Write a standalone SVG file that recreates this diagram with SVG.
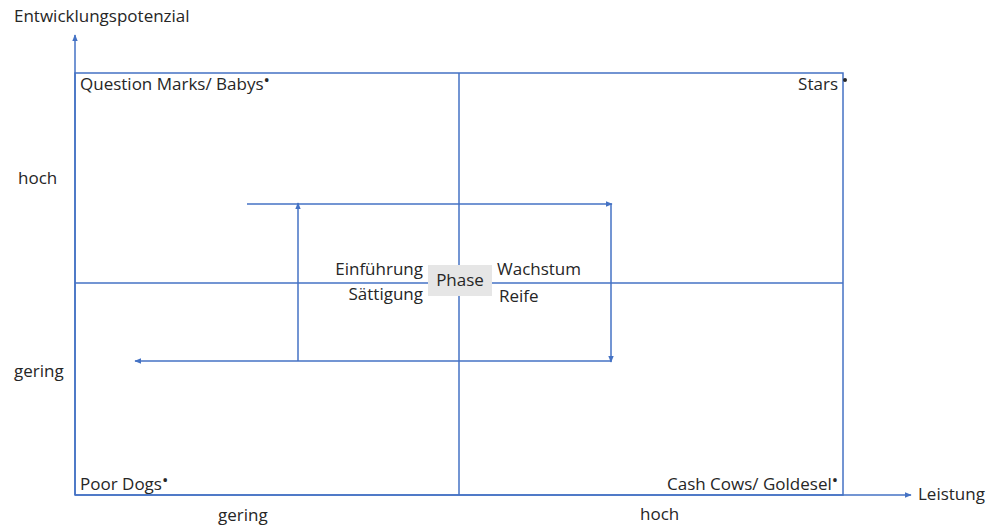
<svg xmlns="http://www.w3.org/2000/svg" width="996" height="525" viewBox="0 0 996 525">
<style>
text{font-family:"Open Sans","Noto Sans",sans-serif;font-size:17px;fill:#262626}
.ln{stroke:#4472C4;stroke-width:1.5;fill:none}
.b{font-size:17px}
</style>
<defs>
<marker id="ah" viewBox="0 0 10 10" refX="9" refY="5" markerWidth="7" markerHeight="7" orient="auto" markerUnits="userSpaceOnUse"><path d="M0,1 L10,5 L0,9 z" fill="#4472C4"/></marker>
</defs>
<rect width="996" height="525" fill="#fff"/>
<g id="connectors">
<line class="ln" x1="75" y1="495" x2="75" y2="35" marker-end="url(#ah)"/>
<line class="ln" x1="75" y1="495" x2="911" y2="495" marker-end="url(#ah)"/>
<rect class="ln" x="75" y="73" width="768" height="422"/>
<line class="ln" x1="459" y1="73" x2="459" y2="495"/>
<line class="ln" x1="75" y1="283" x2="843" y2="283"/>
<line class="ln" x1="247" y1="204" x2="612" y2="204" marker-end="url(#ah)"/>
<line class="ln" x1="611" y1="204" x2="611" y2="362" marker-end="url(#ah)"/>
<line class="ln" x1="611" y1="361" x2="135" y2="361" marker-end="url(#ah)"/>
<line class="ln" x1="298" y1="361" x2="298" y2="203" marker-end="url(#ah)"/>
</g>
<g id="phase">
<rect x="428" y="265" width="64" height="31" fill="#e6e6e6"/>
<text x="460" y="286" text-anchor="middle">Phase</text>
</g>
<g id="labels">
<text x="14" y="22">Entwicklungspotenzial</text>
<text x="18" y="184">hoch</text>
<text x="14" y="377">gering</text>
<text x="218" y="521">gering</text>
<text x="640" y="520">hoch</text>
<text x="918" y="500">Leistung</text>
<text x="423" y="275" text-anchor="end">Einführung</text>
<text x="423" y="300" text-anchor="end">Sättigung</text>
<text x="497" y="275">Wachstum</text>
<text x="499" y="302">Reife</text>
</g>
<g id="question-marks"><text x="80" y="90">Question Marks/ Babys<tspan class="b" dy="-4">•</tspan></text></g>
<g id="stars"><text x="838" y="90" text-anchor="end">Stars</text><circle cx="845" cy="80" r="2" fill="#262626"/></g>
<g id="poor-dogs"><text x="80" y="490">Poor Dogs<tspan class="b" dy="-4">•</tspan></text></g>
<g id="cash-cows"><text x="667" y="490">Cash Cows/ Goldesel<tspan class="b" dy="-4">•</tspan></text></g>
</svg>
